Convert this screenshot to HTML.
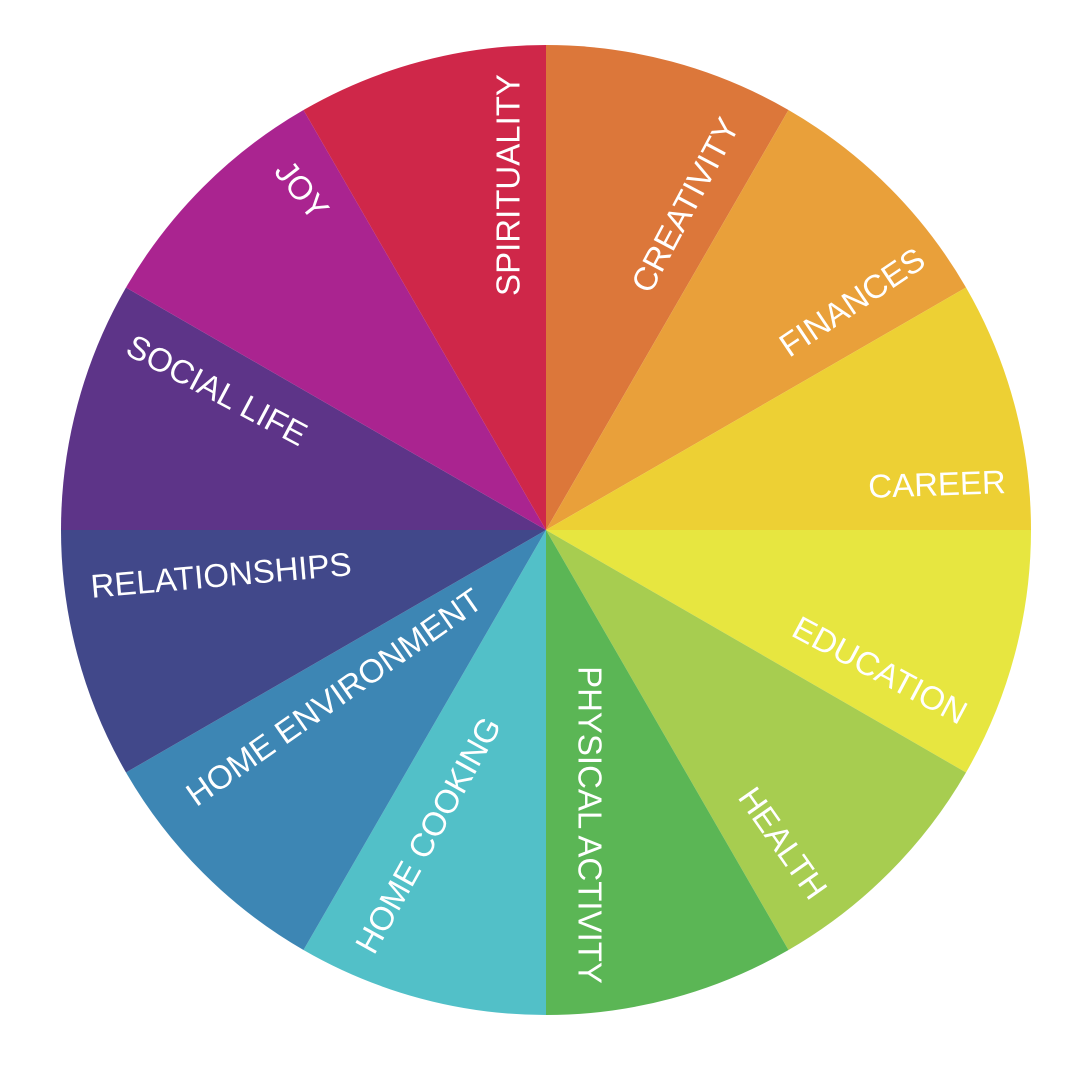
<!DOCTYPE html>
<html><head><meta charset="utf-8"><style>
html,body{margin:0;padding:0;background:#fff;}
svg{display:block;}
text{font-family:"Liberation Sans",sans-serif;font-size:33px;fill:#fff;text-anchor:middle;dominant-baseline:central;}
</style></head><body>
<svg width="1091" height="1079" viewBox="0 0 1091 1079" xmlns="http://www.w3.org/2000/svg">
<path d="M546,530 L546,45 A485,485 0 0 1 788.5,110 Z" fill="#DC773A"/>
<path d="M546,530 L788.5,110 A485,485 0 0 1 966,287.5 Z" fill="#E9A03A"/>
<path d="M546,530 L966,287.5 A485,485 0 0 1 1031,530 Z" fill="#EDD034"/>
<path d="M546,530 L1031,530 A485,485 0 0 1 966,772.5 Z" fill="#E7E640"/>
<path d="M546,530 L966,772.5 A485,485 0 0 1 788.5,950 Z" fill="#A7CD50"/>
<path d="M546,530 L788.5,950 A485,485 0 0 1 546,1015 Z" fill="#5BB655"/>
<path d="M546,530 L546,1015 A485,485 0 0 1 303.5,950 Z" fill="#52C0C8"/>
<path d="M546,530 L303.5,950 A485,485 0 0 1 126,772.5 Z" fill="#3D86B4"/>
<path d="M546,530 L126,772.5 A485,485 0 0 1 61,530 Z" fill="#41488A"/>
<path d="M546,530 L61,530 A485,485 0 0 1 126,287.5 Z" fill="#5D3488"/>
<path d="M546,530 L126,287.5 A485,485 0 0 1 303.5,110 Z" fill="#AA2490"/>
<path d="M546,530 L303.5,110 A485,485 0 0 1 546,45 Z" fill="#CF2749"/>
<text transform="translate(508,185) rotate(-90)">SPIRITUALITY</text>
<text transform="translate(685,205) rotate(-62)">CREATIVITY</text>
<text transform="translate(852,302) rotate(-34)">FINANCES</text>
<text transform="translate(937,484) rotate(-2)">CAREER</text>
<text transform="translate(880,670) rotate(28)">EDUCATION</text>
<text transform="translate(783,843) rotate(55)">HEALTH</text>
<text transform="translate(590,825) rotate(90)">PHYSICAL ACTIVITY</text>
<text transform="translate(428,835) rotate(-61)">HOME COOKING</text>
<text transform="translate(334,697) rotate(-35)">HOME ENVIRONMENT</text>
<text transform="translate(221,575) rotate(-5)">RELATIONSHIPS</text>
<text transform="translate(217,390) rotate(28)">SOCIAL LIFE</text>
<text transform="translate(302,190) rotate(52)">JOY</text>
</svg>
</body></html>
